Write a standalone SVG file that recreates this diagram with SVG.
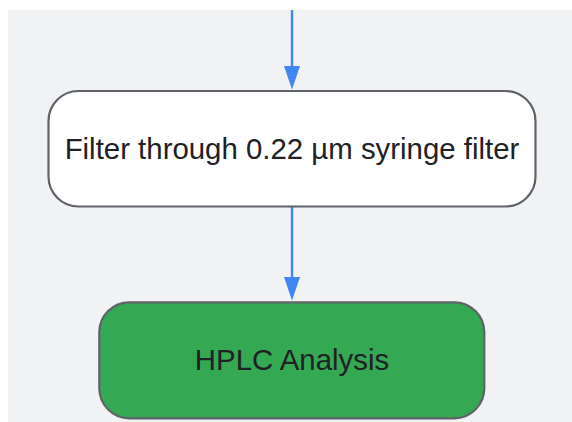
<svg xmlns="http://www.w3.org/2000/svg" width="572" height="422" viewBox="0 0 572 422">
  <defs>
    <style>
      .bg { fill: #f1f2f4; }
      .node rect { stroke: #5f6368; stroke-width: 2.2; }
      .node text { font-family: "Liberation Sans", Arial, sans-serif; font-size: 29.4px; fill: #202124; text-anchor: middle; }
      .edge { stroke: #4285f4; stroke-width: 2.4; fill: none; }
      .head { fill: #4285f4; }
    </style>
  </defs>
  <rect class="bg" x="8" y="10" width="564" height="412"/>
  <g id="edges">
    <g id="edge-in">
      <line class="edge" x1="292" y1="10" x2="292" y2="68"/>
      <polygon class="head" points="284,66 300,66 292,89.5"/>
    </g>
    <g id="edge-filter-hplc">
      <line class="edge" x1="292" y1="207" x2="292" y2="279"/>
      <polygon class="head" points="284,277 300,277 292,300.5"/>
    </g>
  </g>
  <g id="node-filter" class="node">
    <rect x="48.5" y="91" width="487" height="115.5" rx="30" ry="30" fill="#ffffff"/>
    <text x="292" y="159.3">Filter through 0.22 µm syringe filter</text>
  </g>
  <g id="node-hplc" class="node">
    <rect x="99.3" y="302.3" width="385" height="116" rx="30" ry="30" fill="#34a853"/>
    <text x="292" y="369.5">HPLC Analysis</text>
  </g>
</svg>
